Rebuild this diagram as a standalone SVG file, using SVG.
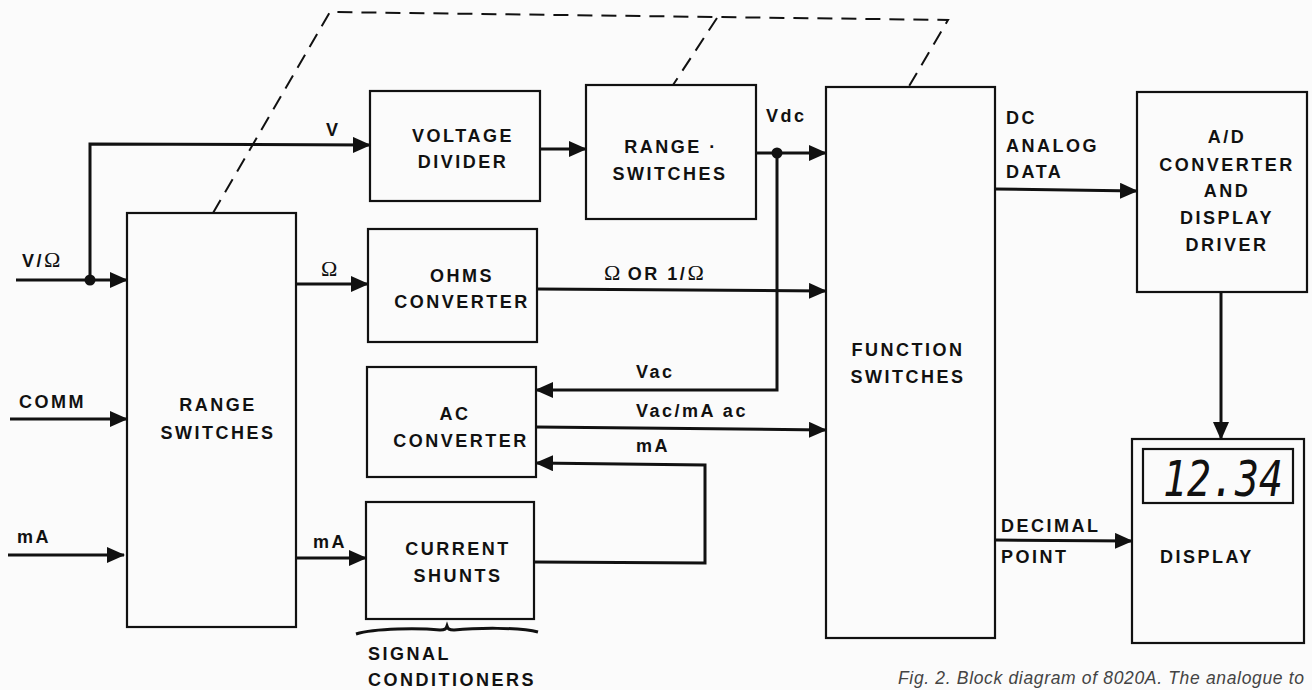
<svg xmlns="http://www.w3.org/2000/svg" width="1312" height="690" viewBox="0 0 1312 690">
<defs>
<marker id="arr" viewBox="0 0 18 16" refX="17" refY="8" markerWidth="18" markerHeight="16" markerUnits="userSpaceOnUse" orient="auto">
<path d="M0,0 L18,8 L0,16 Z" fill="#111"/>
</marker>
<style>
.box{fill:none;stroke:#111;stroke-width:2.2}
.lbl{font-family:"Liberation Sans",Arial,sans-serif;font-weight:bold;font-size:18px;letter-spacing:2.5px;fill:#111}
.mid{text-anchor:middle}
.om{font-family:"Liberation Serif","Times New Roman",serif;font-weight:normal;font-size:22px;letter-spacing:0}
.wire{fill:none;stroke:#111;stroke-width:3}
.dash{fill:none;stroke:#111;stroke-width:2;stroke-dasharray:15 9}
.cap{font-family:"Liberation Sans",Arial,sans-serif;font-style:italic;font-size:17.5px;fill:#444}
</style>
</defs>
<rect width="1312" height="690" fill="#fbfbfb"/>

<g id="mechanical-link">
<path class="dash" d="M213,213 L330,12 L948,20 L908,88"/>
<path class="dash" d="M717,18 L673,85"/>
</g>

<g id="range-switches-in">
<rect class="box" x="127" y="213" width="169" height="414"/>
<text class="lbl mid" x="218" y="411">RANGE</text>
<text class="lbl mid" x="218" y="439">SWITCHES</text>
</g>

<g id="voltage-divider">
<rect class="box" x="370" y="91" width="170" height="110"/>
<text class="lbl mid" x="463" y="142">VOLTAGE</text>
<text class="lbl mid" x="463" y="168">DIVIDER</text>
</g>

<g id="range-switches-dc">
<rect class="box" x="586" y="85" width="170" height="134"/>
<text class="lbl mid" x="671" y="153">RANGE ·</text>
<text class="lbl mid" x="670" y="180">SWITCHES</text>
</g>

<g id="ohms-converter">
<rect class="box" x="368" y="229" width="169" height="113"/>
<text class="lbl mid" x="462" y="282">OHMS</text>
<text class="lbl mid" x="462" y="308">CONVERTER</text>
</g>

<g id="ac-converter">
<rect class="box" x="367" y="367" width="169" height="110"/>
<text class="lbl mid" x="455" y="420">AC</text>
<text class="lbl mid" x="461" y="447">CONVERTER</text>
</g>

<g id="current-shunts">
<rect class="box" x="366" y="502" width="168" height="117"/>
<text class="lbl mid" x="458" y="555">CURRENT</text>
<text class="lbl mid" x="458" y="582">SHUNTS</text>
</g>

<g id="signal-conditioners">
<path d="M356,634 C375,628 420,628 440,630 C445,630 446,629 447,626 C448,629 449,630 454,630 C475,628 520,627 538,632" fill="none" stroke="#111" stroke-width="3"/>
<text class="lbl" x="368" y="660">SIGNAL</text>
<text class="lbl" x="368" y="686">CONDITIONERS</text>
</g>

<g id="function-switches">
<rect class="box" x="826" y="87" width="169" height="551"/>
<text class="lbl mid" x="908" y="356">FUNCTION</text>
<text class="lbl mid" x="908" y="383">SWITCHES</text>
</g>

<g id="ad-converter">
<rect class="box" x="1137" y="92" width="170" height="200"/>
<text class="lbl mid" x="1227" y="143">A/D</text>
<text class="lbl mid" x="1227" y="171">CONVERTER</text>
<text class="lbl mid" x="1227" y="197">AND</text>
<text class="lbl mid" x="1227" y="224">DISPLAY</text>
<text class="lbl mid" x="1227" y="251">DRIVER</text>
</g>

<g id="display">
<rect class="box" x="1132" y="439" width="172" height="204"/>
<rect class="box" x="1143" y="449" width="150" height="54" stroke-width="2.6"/>
<text x="1163" y="496" font-family="DejaVu Sans Mono,monospace" font-style="oblique" font-size="50" textLength="120" lengthAdjust="spacingAndGlyphs" fill="#111">12.34</text>
<text class="lbl" x="1160" y="563">DISPLAY</text>
</g>

<g id="connectors">
<path class="wire" d="M16,280 L127,280" marker-end="url(#arr)"/>
<path class="wire" d="M90,280 L90,144 L370,145" marker-end="url(#arr)"/>
<circle cx="90" cy="280" r="5.5" fill="#111"/>
<path class="wire" d="M296,284 L368,284" marker-end="url(#arr)"/>
<path class="wire" d="M540,149 L586,149" marker-end="url(#arr)"/>
<path class="wire" d="M756,153 L826,153" marker-end="url(#arr)"/>
<circle cx="777" cy="153" r="5.5" fill="#111"/>
<path class="wire" d="M777,153 L777,390 L536,390" marker-end="url(#arr)"/>
<path class="wire" d="M537,289 L826,291" marker-end="url(#arr)"/>
<path class="wire" d="M536,427 L826,430" marker-end="url(#arr)"/>
<path class="wire" d="M534,562 L705,563 L705,465 L536,463" marker-end="url(#arr)"/>
<path class="wire" d="M10,419 L127,419" marker-end="url(#arr)"/>
<path class="wire" d="M8,555 L124,555" marker-end="url(#arr)"/>
<path class="wire" d="M295,558 L366,558" marker-end="url(#arr)"/>
<path class="wire" d="M995,189 L1137,191" marker-end="url(#arr)"/>
<path class="wire" d="M1221,292 L1221,439" marker-end="url(#arr)"/>
<path class="wire" d="M995,540 L1132,541" marker-end="url(#arr)"/>
</g>

<g id="labels">
<text class="lbl" x="22" y="267">V/<tspan class="om">Ω</tspan></text>
<text class="lbl" x="326" y="136">V</text>
<text class="lbl" x="321" y="276"><tspan class="om">Ω</tspan></text>
<text class="lbl" x="766" y="122">Vdc</text>
<text class="lbl" x="604" y="280"><tspan class="om">Ω</tspan> OR 1/<tspan class="om">Ω</tspan></text>
<text class="lbl" x="636" y="378">Vac</text>
<text class="lbl" x="636" y="417">Vac/mA ac</text>
<text class="lbl" x="636" y="452">mA</text>
<text class="lbl" x="19" y="408">COMM</text>
<text class="lbl" x="17" y="543">mA</text>
<text class="lbl" x="313" y="548">mA</text>
<text class="lbl" x="1006" y="124">DC</text>
<text class="lbl" x="1006" y="152">ANALOG</text>
<text class="lbl" x="1006" y="178">DATA</text>
<text class="lbl" x="1001" y="532">DECIMAL</text>
<text class="lbl" x="1001" y="563">POINT</text>
</g>

<text class="cap" x="898" y="684" textLength="406" lengthAdjust="spacing">Fig. 2. Block diagram of 8020A. The analogue to</text>
</svg>
